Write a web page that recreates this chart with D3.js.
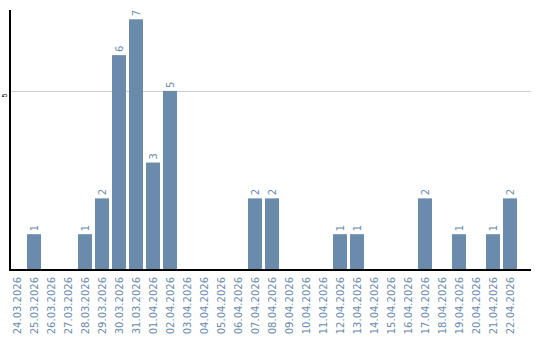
<!DOCTYPE html>
<html>
<head>
<meta charset="utf-8">
<script src="https://cdn.jsdelivr.net/npm/d3@7"></script>
<style>
  body { margin: 0; background: #fff; }
  svg { display: block; font-family: "DejaVu Sans", Verdana, sans-serif; }
</style>
</head>
<body>
<div id="chart"></div>
<script>
// daily counts, 24.03.2026 – 22.04.2026
const dates = [
  '24.03.2026', '25.03.2026', '26.03.2026', '27.03.2026', '28.03.2026',
  '29.03.2026', '30.03.2026', '31.03.2026', '01.04.2026', '02.04.2026',
  '03.04.2026', '04.04.2026', '05.04.2026', '06.04.2026', '07.04.2026',
  '08.04.2026', '09.04.2026', '10.04.2026', '11.04.2026', '12.04.2026',
  '13.04.2026', '14.04.2026', '15.04.2026', '16.04.2026', '17.04.2026',
  '18.04.2026', '19.04.2026', '20.04.2026', '21.04.2026', '22.04.2026'
];
const counts = [
  0, 1, 0, 0, 1,
  2, 6, 7, 3, 5,
  0, 0, 0, 0, 2,
  2, 0, 0, 0, 1,
  1, 0, 0, 0, 2,
  0, 1, 0, 1, 2
];
const yTicks = [5];
const yMax = 7.26;

(function () {
  const width = 540;
  const height = 340;
  const left = 10, plotRight = 520, axisRight = 531, plotTop = 10, base = 270;
  const barColor = '#6a8bab';

  const svg = d3.select('#chart')
    .append('svg')
    .attr('width', width)
    .attr('height', height);

  const x = d3.scaleBand()
    .domain(dates)
    .range([left, plotRight])
    .padding(0);

  const barW = x.bandwidth() * 14 / 17;

  const y = d3.scaleLinear()
    .domain([0, yMax])
    .range([base, plotTop]);

  // grid + y tick labels
  const yAxis = svg.append('g')
    .attr('transform', `translate(${left},0)`)
    .call(d3.axisLeft(y).tickValues(yTicks).tickSize(-(axisRight - left)).tickFormat(d3.format('d')));
  yAxis.select('.domain').remove();
  yAxis.selectAll('.tick line').attr('stroke', '#cccccc');
  yAxis.selectAll('.tick text')
    .attr('x', 0)
    .attr('dy', 0)
    .attr('transform', 'translate(-3,4) rotate(-90)')
    .attr('text-anchor', 'middle')
    .attr('y', 0)
    .attr('font-size', 7)
    .attr('fill', '#000');

  const rows = dates.map((d, i) => ({ date: d, value: counts[i] })).filter(d => d.value > 0);

  // bars
  svg.selectAll('.bar')
    .data(rows)
    .enter()
    .append('rect')
    .attr('class', 'bar')
    .attr('x', d => x(d.date))
    .attr('y', d => y(d.value))
    .attr('width', barW)
    .attr('height', d => y(0) - y(d.value))
    .attr('fill', barColor);

  // value labels
  svg.selectAll('.val')
    .data(rows)
    .enter()
    .append('text')
    .attr('class', 'val')
    .attr('transform', d => `translate(${x(d.date) + barW / 2 + 3.5},${y(d.value) - 3}) rotate(-90)`)
    .attr('text-anchor', 'start')
    .attr('font-size', 10)
    .attr('fill', barColor)
    .text(d => d.value);

  // x axis labels
  const xAxis = svg.append('g')
    .attr('transform', `translate(0,${base})`)
    .call(d3.axisBottom(x).tickSize(0));
  xAxis.select('.domain').remove();
  xAxis.selectAll('.tick').attr('transform', d => `translate(${x(d) + barW / 2},0)`);
  xAxis.selectAll('.tick text')
    .attr('transform', 'rotate(-90)')
    .attr('text-anchor', 'end')
    .attr('x', -7)
    .attr('y', 0)
    .attr('dy', '0.35em')
    .attr('font-size', 10)
    .attr('font-family', '"DejaVu Sans", Verdana, sans-serif')
    .attr('fill', barColor);

  // axis lines
  svg.append('line')
    .attr('x1', left).attr('x2', axisRight)
    .attr('y1', base).attr('y2', base)
    .attr('stroke', '#000').attr('stroke-width', 2);
  svg.append('line')
    .attr('x1', left).attr('x2', left)
    .attr('y1', plotTop).attr('y2', base + 1)
    .attr('stroke', '#000').attr('stroke-width', 2);
})();
</script>
</body>
</html>
